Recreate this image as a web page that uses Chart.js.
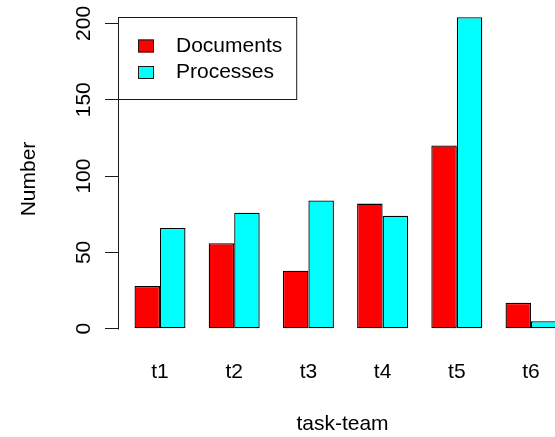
<!DOCTYPE html>
<html>
<head>
<meta charset="utf-8">
<script src="https://cdn.jsdelivr.net/npm/chart.js@4"></script>
<style>
  body { margin: 0; overflow: hidden; background: #fff; }
  #wrap { position: absolute; left: 0; top: 0; width: 567px; height: 437px; }
</style>
</head>
<body>
<div id="wrap"><canvas id="barChart" width="567" height="437"></canvas></div>
<script>
// dados
const categories = ['t1', 't2', 't3', 't4', 't5', 't6'];
const documents = [28, 56, 38, 82, 120, 17];
const processes = [66, 76, 84, 74, 204, 5];
const yTicks = [0, 50, 100, 150, 200];
const seriesNames = ['Documents', 'Processes'];

const FONT = '"Liberation Sans", Arial, sans-serif';
const INK = '#1a1a1a';
const TEXT = '#000';

// pontos {x, y} para eixo x linear (t1 = 1, t2 = 2, ...)
const toPoints = (arr) => arr.map((v, i) => ({ x: i + 1, y: v }));

// eixo y do R: linha só de 0 a 200 + rótulos girados
const rAxisPlugin = {
    id: 'rAxis',
    afterDraw(chart) {
        const ctx = chart.ctx;
        const y = chart.scales.y;
        const left = chart.chartArea.left;
        ctx.save();
        ctx.strokeStyle = INK;
        ctx.lineWidth = 1;
        ctx.beginPath();
        ctx.moveTo(left + 0.5, Math.round(y.getPixelForValue(yTicks[0])) + 0.5);
        ctx.lineTo(left + 0.5, Math.round(y.getPixelForValue(yTicks[yTicks.length - 1])) + 0.5);
        ctx.stroke();

        ctx.fillStyle = TEXT;
        ctx.font = '21px ' + FONT;
        ctx.textAlign = 'center';
        ctx.textBaseline = 'alphabetic';
        y.ticks.forEach(t => {
            const py = y.getPixelForValue(t.value);
            ctx.save();
            ctx.translate(left - 28, py);
            ctx.rotate(-Math.PI / 2);
            ctx.fillText(String(t.value), 0, 0);
            ctx.restore();
        });
        ctx.restore();
    }
};

// legenda com caixa, no canto superior esquerdo da área do gráfico
const boxLegendPlugin = {
    id: 'boxLegend',
    afterDraw(chart) {
        const ctx = chart.ctx;
        const area = chart.chartArea;
        const sets = chart.data.datasets;
        ctx.save();
        ctx.font = '21px ' + FONT;
        const textX = area.left + 58;
        const maxW = Math.max(...sets.map(d => ctx.measureText(d.label).width));
        const boxW = textX + maxW + 14 - area.left;
        const boxH = 82;

        ctx.fillStyle = '#fff';
        ctx.fillRect(area.left, area.top, boxW, boxH);
        ctx.strokeStyle = INK;
        ctx.lineWidth = 1;
        ctx.strokeRect(area.left + 0.5, area.top + 0.5, boxW, boxH);

        sets.forEach((d, i) => {
            const cy = area.top + 29 + i * 26.5;
            ctx.fillStyle = d.backgroundColor;
            ctx.fillRect(area.left + 20, cy - 6.5, 16, 13);
            ctx.strokeStyle = INK;
            ctx.strokeRect(area.left + 20.5, cy - 6, 15, 12);
            ctx.fillStyle = TEXT;
            ctx.textBaseline = 'middle';
            ctx.textAlign = 'left';
            ctx.fillText(d.label, textX, cy);
        });
        ctx.restore();
    }
};

const ctx = document.getElementById('barChart').getContext('2d');
const barChart = new Chart(ctx, {
    type: 'bar',
    data: {
        datasets: [{
            label: seriesNames[0],
            data: toPoints(documents),
            backgroundColor: '#ff0000',
            borderColor: '#000',
            borderWidth: 1.3,
            borderSkipped: false
        }, {
            label: seriesNames[1],
            data: toPoints(processes),
            backgroundColor: '#00ffff',
            borderColor: '#000',
            borderWidth: 1.3,
            borderSkipped: false
        }]
    },
    options: {
        responsive: false,
        animation: false,
        events: [],
        layout: { padding: { left: 0, right: 0, top: 17, bottom: 0 } },
        datasets: { bar: { categoryPercentage: 0.687, barPercentage: 1 } },
        plugins: {
            legend: { display: false },
            tooltip: { enabled: false }
        },
        scales: {
            x: {
                type: 'linear',
                offset: false,
                min: 0.434,
                max: 6.485,
                grid: { display: false, drawTicks: false },
                border: { display: false },
                afterBuildTicks: (scale) => {
                    scale.ticks = categories.map((c, i) => ({ value: i + 1 }));
                },
                afterFit: (scale) => { scale.height = 96; },
                ticks: {
                    padding: 19,
                    color: TEXT,
                    font: { family: FONT, size: 21 },
                    maxRotation: 0,
                    callback: (v) => categories[v - 1]
                },
                title: {
                    display: true,
                    text: 'task-team',
                    color: TEXT,
                    font: { family: FONT, size: 21 },
                    padding: { top: 0, bottom: 0 }
                }
            },
            y: {
                min: -8,
                max: 204.2,
                grid: {
                    drawOnChartArea: false,
                    drawTicks: true,
                    tickLength: 13,
                    tickColor: INK,
                    tickWidth: 1
                },
                border: { display: false },
                afterBuildTicks: (scale) => {
                    scale.ticks = yTicks.map(v => ({ value: v }));
                },
                afterFit: (scale) => { scale.width = 118; },
                ticks: { display: false },
                title: {
                    display: true,
                    text: 'Number',
                    color: TEXT,
                    font: { family: FONT, size: 21 },
                    padding: { top: 17, bottom: 0 }
                }
            }
        }
    },
    plugins: [rAxisPlugin, boxLegendPlugin]
});
</script>
</body>
</html>
